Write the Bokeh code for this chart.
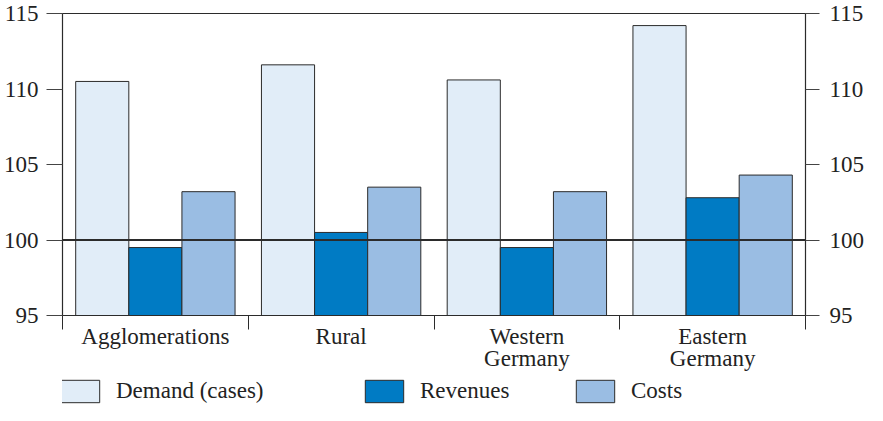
from bokeh.plotting import figure
from bokeh.layouts import column
from bokeh.models import (Range1d, LinearAxis, FixedTicker, Span, Legend, LegendItem)
from bokeh.embed import file_html
from bokeh.resources import INLINE

# ---- data ----
categories = ["Agglomerations", "Rural", "Western\nGermany", "Eastern\nGermany"]
series_names = ["Demand (cases)", "Revenues", "Costs"]
demand = [110.5, 111.6, 110.6, 114.2]
revenues = [99.5, 100.5, 99.5, 102.8]
costs = [103.2, 103.5, 103.2, 104.3]
y_ticks = [95, 100, 105, 110, 115]
reference_level = 100
y_min, y_max = 95, 115

# ---- style ----
colors = ["#e1edf8", "#007bc4", "#9abde3"]
FONT = "Liberation Serif"
DARK = "#2b2b2b"
TXT = "#222222"
bar_w = 0.286
legend_x_px = [-6, 298, 509]

n = len(categories)
centres = [i + 0.5 for i in range(n)]
series = [demand, revenues, costs]
offsets = [-bar_w, 0.0, bar_w]

p = figure(width=867, height=374, output_backend="svg", toolbar_location=None,
           x_range=Range1d(0, n), y_range=Range1d(y_min, y_max),
           min_border_left=62, min_border_right=58, min_border_top=13,
           min_border_bottom=59)
p.xgrid.visible = False
p.ygrid.visible = False
p.outline_line_color = DARK
p.outline_line_width = 1
p.background_fill_color = "white"
p.border_fill_color = "white"

for vals, col, off in zip(series, colors, offsets):
    p.vbar(x=[c + off for c in centres], top=vals, bottom=y_min,
           width=bar_w, fill_color=col, line_color=DARK, line_width=1)

p.add_layout(Span(location=reference_level, dimension="width",
                  line_color=DARK, line_width=2))

# y axes
def style_y(ax, tick_out, standoff):
    ax.ticker = FixedTicker(ticks=y_ticks)
    ax.major_tick_out = tick_out
    ax.major_tick_in = 0
    ax.minor_tick_out = 0
    ax.minor_tick_in = 0
    ax.major_tick_line_color = "#444444"
    ax.axis_line_color = DARK
    ax.axis_line_width = 1.2
    ax.major_label_standoff = standoff
    ax.major_label_text_font = FONT
    ax.major_label_text_font_size = "23px"
    ax.major_label_text_color = TXT

style_y(p.yaxis[0], 16, 8)
right = LinearAxis()
style_y(right, 14, 10)
p.add_layout(right, "right")

# x axis: category labels at group centres, separators as minor ticks
xa = p.xaxis[0]
xa.ticker = FixedTicker(ticks=centres, minor_ticks=list(range(n + 1)))
xa.major_tick_out = 0
xa.major_tick_in = 0
xa.minor_tick_out = 14
xa.minor_tick_in = 0
xa.minor_tick_line_color = DARK
xa.axis_line_color = DARK
xa.major_label_overrides = {c: lab for c, lab in zip(centres, categories)}
xa.major_label_text_font = FONT
xa.major_label_text_font_size = "23px"
xa.major_label_text_color = TXT
xa.major_label_text_line_height = 0.88
xa.major_label_standoff = -6

# legend strip: hidden copies of the series serve only as legend swatches
lg = figure(width=867, height=31, output_backend="svg", toolbar_location=None,
            x_range=Range1d(0, 1), y_range=Range1d(0, 1),
            x_axis_location=None, y_axis_location=None,
            min_border_left=0, min_border_right=0, min_border_top=0,
            min_border_bottom=0)
lg.xgrid.visible = False
lg.ygrid.visible = False
lg.outline_line_color = None
for nm, vals, col, lx in zip(series_names, series, colors, legend_x_px):
    sw = lg.vbar(x=centres, top=vals, bottom=y_min, width=bar_w, fill_color=col,
                 line_color=DARK, line_width=1)
    sw.visible = False
    leg = Legend(items=[LegendItem(label=nm, renderers=[sw])], location=(lx, 0),
                 orientation="horizontal", padding=0, margin=0, spacing=0,
                 glyph_width=48, glyph_height=28, label_standoff=12,
                 label_text_font=FONT, label_text_font_size="23px",
                 label_text_color=TXT, border_line_alpha=0,
                 background_fill_alpha=0, inactive_fill_alpha=0)
    lg.add_layout(leg, "center")

open("out.html", "w").write(file_html(column(p, lg), INLINE))
